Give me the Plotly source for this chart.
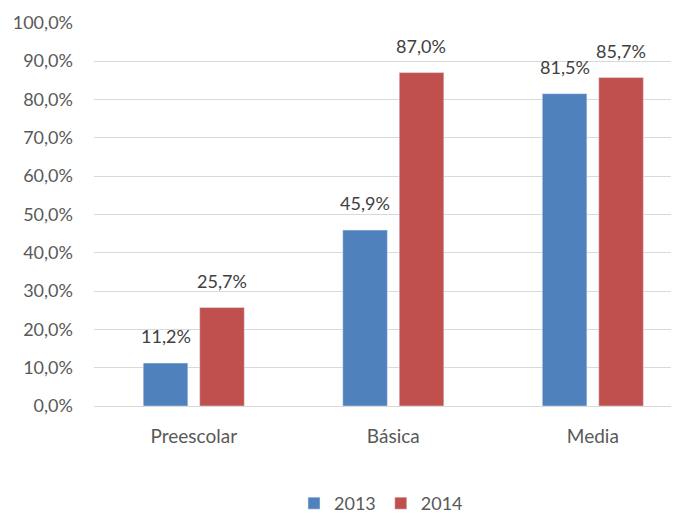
import plotly.graph_objects as go

niveles = ["Preescolar", "Básica", "Media"]
tasa_2013 = [0.112, 0.459, 0.815]
tasa_2014 = [0.257, 0.870, 0.857]

fig = go.Figure()
fig.add_trace(go.Bar(x=niveles, y=tasa_2013, name="2013", marker_color="#4F81BD"))
fig.add_trace(go.Bar(x=niveles, y=tasa_2014, name="2014", marker_color="#C0504D"))

# value labels sit well above each bar, as in the original
for serie, dx in [(tasa_2013, -28), (tasa_2014, 28)]:
    for cat, val in zip(niveles, serie):
        fig.add_annotation(x=cat, y=val, text=f"{val * 100:.1f}%".replace(".", ","),
                           xshift=dx, yshift=27, showarrow=False,
                           font=dict(size=18, color="#404040"))

# page body has an 8px default margin, so margins are trimmed to compensate
fig.update_layout(
    width=679, height=514,
    margin=dict(l=86, r=0, t=14, b=116),
    plot_bgcolor="white", paper_bgcolor="white",
    separators=",.",
    barmode="group", bargap=0.434, bargroupgap=0.21,
    font=dict(family="Lato, Liberation Sans, sans-serif", size=18, color="#595959"),
    legend=dict(orientation="h", x=0.484, xanchor="center", y=-0.255, yanchor="middle",
                font=dict(size=18, color="#595959")),
    showlegend=True,
)
fig.update_xaxes(range=[-0.5, 2.472], showgrid=False, showline=False, automargin=False,
                 ticklabelstandoff=17, tickfont=dict(size=19))
fig.update_yaxes(range=[0, 1.002], tickvals=[i / 10 for i in range(11)], tickformat=".1%",
                 gridcolor="#D9D9D9", gridwidth=1, zeroline=True, zerolinecolor="#D9D9D9",
                 zerolinewidth=1, ticklabelstandoff=20, automargin=False)

fig.write_html("out.html")
